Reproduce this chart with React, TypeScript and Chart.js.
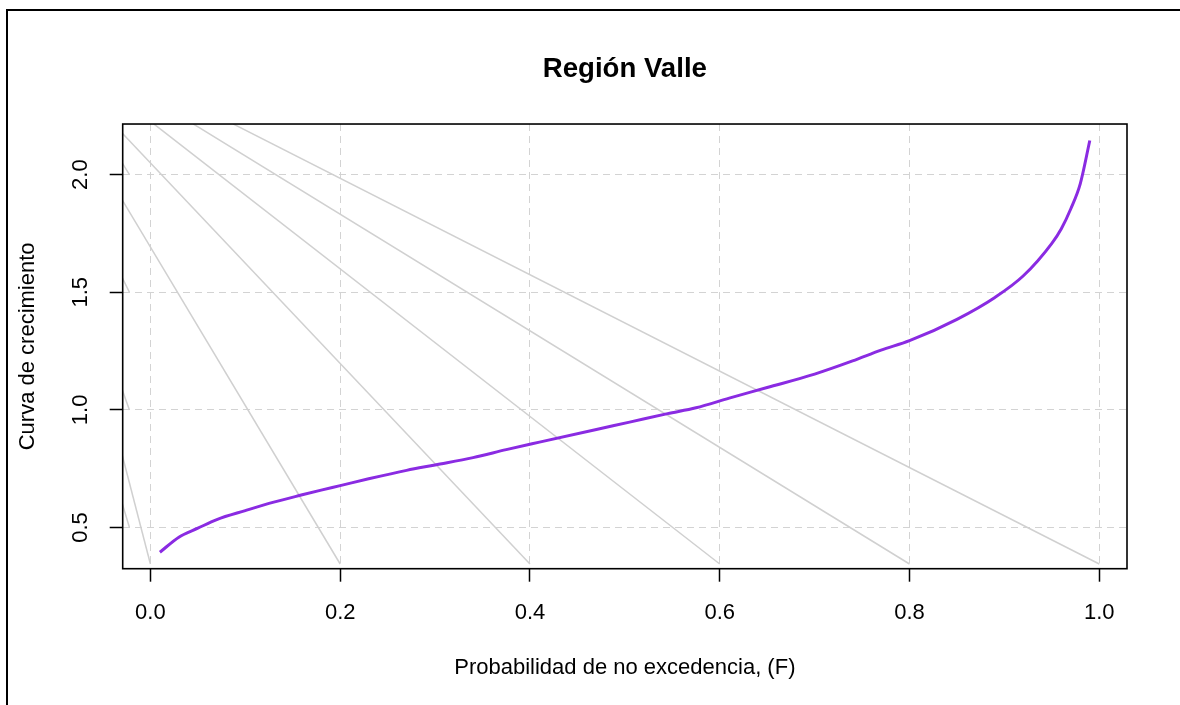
import React, { useEffect, useRef } from "react";
import { Chart, registerables } from "chart.js";

Chart.register(...registerables);

// Non-exceedance probability (F) and growth curve values
const probF = [0.01, 0.03, 0.05, 0.07, 0.10, 0.13, 0.16, 0.18, 0.20, 0.23, 0.27, 0.30, 0.34, 0.375, 0.41, 0.47, 0.505, 0.545, 0.575, 0.61, 0.65, 0.70, 0.74, 0.77, 0.80, 0.85, 0.89, 0.92, 0.95, 0.96, 0.97, 0.98, 0.99];
const growth = [0.395, 0.459, 0.497, 0.534, 0.572, 0.608, 0.639, 0.659, 0.678, 0.707, 0.743, 0.766, 0.797, 0.831, 0.863, 0.917, 0.948, 0.984, 1.009, 1.050, 1.095, 1.152, 1.208, 1.254, 1.294, 1.385, 1.478, 1.570, 1.708, 1.770, 1.855, 1.962, 2.145];

// Light grey guide lines (start and end points)
const guideX0 = [1.0, 0.8, 0.6, 0.4, 0.2, 0.0, -0.0221, -0.0221, -0.0221, -0.0221];
const guideY0 = [0.345, 0.345, 0.345, 0.345, 0.345, 0.345, 0.5, 1.0, 1.5, 2.0];
const guideX1 = [0.087, 0.045, 0.0035, -0.0296, -0.0296, -0.0296, -0.0296, -0.0296, -0.0296, -0.0296];
const guideY1 = [2.2157, 2.2157, 2.2157, 2.176, 1.892, 0.806, 0.601, 1.084, 1.561, 2.049];

const xTicks = [0.0, 0.2, 0.4, 0.6, 0.8, 1.0];
const yTicks = [0.5, 1.0, 1.5, 2.0];

const titleText = "Región Valle";
const xTitle = "Probabilidad de no excedencia, (F)";
const yTitle = "Curva de crecimiento";

const FONT = "'Liberation Sans', Arial, Helvetica, sans-serif";

export default function App() {
  const ref = useRef<HTMLCanvasElement | null>(null);

  useEffect(() => {
    if (!ref.current) return;
    const xr = Math.max(...probF) - Math.min(...probF);
    const yr = Math.max(...growth) - Math.min(...growth);
    const xMin = Math.min(...probF) - 0.04 * xr;
    const xMax = Math.max(...probF) + 0.04 * xr;
    const yMin = Math.min(...growth) - 0.04 * yr;
    const yMax = Math.max(...growth) + 0.04 * yr;

    const guides = guideX0.map((x0, i) => ({
      data: [
        { x: x0, y: guideY0[i] },
        { x: guideX1[i], y: guideY1[i] },
      ],
      borderColor: "#D0D0D0",
      borderWidth: 1.5,
      pointRadius: 0,
      showLine: true,
      fill: false,
      order: 2,
    }));

    const framePlugin = {
      id: "frame",
      afterLayout(chart: any) {
        const t = chart.titleBlock;
        if (t) {
          t.left = chart.chartArea.left;
          t.right = chart.chartArea.right;
          t.width = t.right - t.left;
        }
      },
      beforeDraw(chart: any) {
        const ctx = chart.ctx;
        ctx.save();
        ctx.fillStyle = "#ffffff";
        ctx.fillRect(0, 0, chart.width, chart.height);
        ctx.strokeStyle = "#000";
        ctx.lineWidth = 2;
        ctx.beginPath();
        ctx.moveTo(7, chart.height);
        ctx.lineTo(7, 10);
        ctx.lineTo(chart.width, 10);
        ctx.stroke();
        ctx.restore();
      },
      afterDraw(chart: any) {
        const { left, top, right, bottom } = chart.chartArea;
        const ctx = chart.ctx;
        ctx.save();
        ctx.strokeStyle = "#000";
        ctx.lineWidth = 1.6;
        ctx.strokeRect(left, top, right - left, bottom - top);
        ctx.restore();
      },
    };

    const chart = new Chart(ref.current, {
      type: "scatter",
      data: {
        datasets: [
          {
            data: probF.map((f, i) => ({ x: f, y: growth[i] })),
            borderColor: "#8A2BE2",
            borderWidth: 3,
            pointRadius: 0,
            showLine: true,
            fill: false,
            cubicInterpolationMode: "monotone",
            order: 1,
          } as any,
          ...guides,
        ],
      },
      options: {
        animation: false,
        responsive: false,
        maintainAspectRatio: false,
        devicePixelRatio: 1,
        layout: { padding: { left: 0, right: 53, top: 0, bottom: 0 } },
        plugins: {
          legend: { display: false },
          tooltip: { enabled: false },
          title: {
            display: true,
            text: titleText,
            color: "#000",
            font: { family: FONT, size: 27.6, weight: "bold" },
            padding: { top: 53.1, bottom: 37.8 },
          },
        },
        scales: {
          x: {
            type: "linear",
            min: xMin,
            max: xMax,
            afterBuildTicks: (s: any) => {
              s.ticks = xTicks.map((v) => ({ value: v }));
            },
            afterFit: (s: any) => {
              s.height = 136.3;
            },
            grid: {
              color: "#D3D3D3",
              lineWidth: 1,
              drawTicks: true,
              tickLength: 13,
              tickColor: "#000",
              tickWidth: 1.5,
              tickBorderDash: [],
            },
            border: { display: false, dash: [7, 5] },
            ticks: {
              color: "#000",
              font: { family: FONT, size: 22 },
              padding: 18,
              maxRotation: 0,
              minRotation: 0,
              callback: (v: any) => Number(v).toFixed(1),
            },
            title: {
              display: true,
              text: xTitle,
              color: "#000",
              font: { family: FONT, size: 22 },
              padding: { top: 0, bottom: 23.8 },
            },
          },
          y: {
            type: "linear",
            min: yMin,
            max: yMax,
            afterBuildTicks: (s: any) => {
              s.ticks = yTicks.map((v) => ({ value: v }));
            },
            afterFit: (s: any) => {
              s.width = 122.7;
            },
            grid: {
              color: "#D3D3D3",
              lineWidth: 1,
              drawTicks: true,
              tickLength: 13,
              tickColor: "#000",
              tickWidth: 1.5,
              tickBorderDash: [],
            },
            border: { display: false, dash: [7, 5] },
            ticks: {
              color: "#000",
              font: { family: FONT, size: 22 },
              padding: 13,
              minRotation: 90,
              maxRotation: 90,
              crossAlign: "center",
              callback: (v: any) => Number(v).toFixed(1),
            },
            title: {
              display: true,
              text: yTitle,
              color: "#000",
              font: { family: FONT, size: 22 },
              padding: { top: 14.3, bottom: 0 },
            },
          },
        },
      } as any,
      plugins: [framePlugin],
    });

    return () => chart.destroy();
  }, []);

  return (
    <div style={{ position: "absolute", left: 0, top: 0, width: 1180, height: 705, background: "#fff" }}>
      <canvas ref={ref} width={1180} height={705} style={{ display: "block", width: 1180, height: 705 }} />
    </div>
  );
}
